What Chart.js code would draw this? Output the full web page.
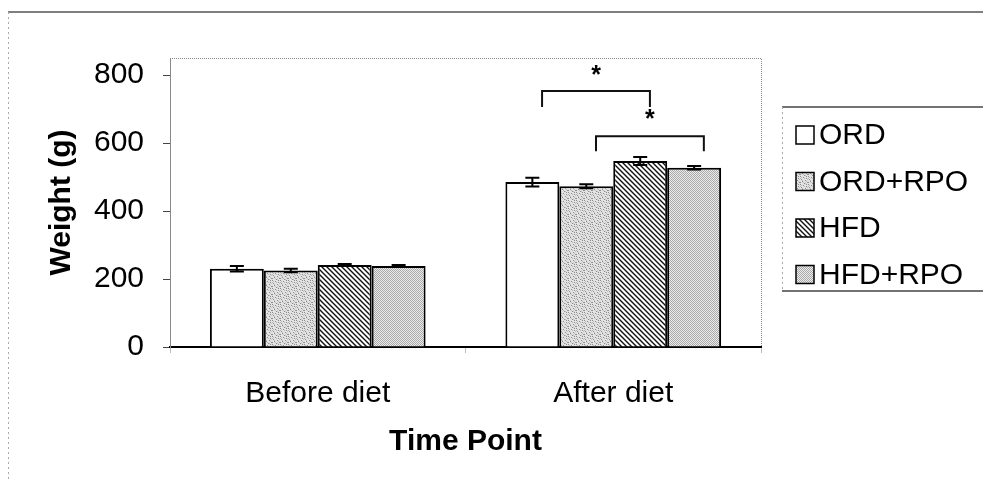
<!DOCTYPE html>
<html>
<head>
<meta charset="utf-8">
<script src="https://cdn.jsdelivr.net/npm/chart.js@4/dist/chart.umd.min.js"></script>
<style>
  html, body { margin: 0; padding: 0; background: #fff; }
  #wrap { width: 983px; height: 491px; }
</style>
</head>
<body>
<div id="wrap"><canvas id="c" width="983" height="491"></canvas></div>
<script>
// ---- data ----
const categories = ['Before diet', 'After diet'];
const seriesNames = ['ORD', 'ORD+RPO', 'HFD', 'HFD+RPO'];
const ordValues = [230, 485];
const ordRpoValues = [225, 473];
const hfdValues = [241, 547];
const hfdRpoValues = [238, 527];
const ordErr = [8, 13];
const ordRpoErr = [5, 6];
const hfdErr = [3, 12];
const hfdRpoErr = [3, 5];
const yTicks = [0, 200, 400, 600, 800];
const yMax = 850;
// significance brackets (category index, dataset from/to, y in data units)
const brackets = [
  { cat: 1, from: 0, to: 2, top: 753, bottom: 706, star: 821 },
  { cat: 1, from: 1, to: 3, top: 620, bottom: 576, star: 691 }
];

const FONT = "'Liberation Sans', Arial, sans-serif";

// ---- patterns ----
function tile(w, h, draw) {
  const c = document.createElement('canvas');
  c.width = w; c.height = h;
  const g = c.getContext('2d');
  draw(g);
  return document.getElementById('c').getContext('2d').createPattern(c, 'repeat');
}
const speckle = tile(8, 8, g => {
  g.fillStyle = '#e2e2e2'; g.fillRect(0, 0, 8, 8);
  g.fillStyle = '#8e8e8e';
  const pts = [[0,0],[3,1],[6,2],[1,3],[5,4],[2,5],[7,6],[4,7],[6,0],[0,6]];
  pts.forEach(p => g.fillRect(p[0], p[1], 1, 1));
  g.fillStyle = '#bdbdbd';
  const pts2 = [[1,1],[4,2],[7,3],[2,4],[6,5],[3,6],[5,7],[0,2]];
  pts2.forEach(p => g.fillRect(p[0], p[1], 1, 1));
});
const hatch = tile(5, 5, g => {
  g.fillStyle = '#ffffff'; g.fillRect(0, 0, 5, 5);
  g.strokeStyle = '#111'; g.lineWidth = 1.4;
  g.beginPath();
  g.moveTo(-1, -1); g.lineTo(6, 6);
  g.moveTo(-4, 1); g.lineTo(4, 9);
  g.moveTo(1, -4); g.lineTo(9, 4);
  g.stroke();
});
const dots = tile(2, 2, g => {
  g.fillStyle = '#ececec'; g.fillRect(0, 0, 2, 2);
  g.fillStyle = '#a8a8a8'; g.fillRect(0, 0, 1, 1); g.fillRect(1, 1, 1, 1);
});
const fills = ['#ffffff', speckle, hatch, dots];
const allValues = [ordValues, ordRpoValues, hfdValues, hfdRpoValues];
const allErrs = [ordErr, ordRpoErr, hfdErr, hfdRpoErr];

const decorPlugin = {
  id: 'decor',
  beforeDraw(chart) {
    const ctx = chart.ctx;
    ctx.save();
    ctx.fillStyle = '#fff';
    ctx.fillRect(0, 0, chart.width, chart.height);
    // outer frame
    ctx.strokeStyle = '#555'; ctx.lineWidth = 1.5;
    ctx.beginPath(); ctx.moveTo(8, 12); ctx.lineTo(983, 12); ctx.stroke();
    ctx.strokeStyle = '#aaa'; ctx.lineWidth = 1; ctx.setLineDash([2, 3]);
    ctx.beginPath(); ctx.moveTo(8.5, 12); ctx.lineTo(8.5, 482); ctx.stroke();
    // plot area top/right dotted
    const a = chart.chartArea;
    ctx.strokeStyle = '#888'; ctx.setLineDash([1, 1]);
    ctx.beginPath();
    ctx.moveTo(a.left, a.top + 0.5); ctx.lineTo(a.right + 0.5, a.top + 0.5); ctx.lineTo(a.right + 0.5, a.bottom);
    ctx.stroke();
    // legend frame
    ctx.setLineDash([]);
    ctx.strokeStyle = '#444'; ctx.lineWidth = 1.5;
    ctx.beginPath(); ctx.moveTo(782, 107); ctx.lineTo(983, 107); ctx.stroke();
    ctx.beginPath(); ctx.moveTo(782, 291); ctx.lineTo(983, 291); ctx.stroke();
    ctx.strokeStyle = '#aaa'; ctx.lineWidth = 1; ctx.setLineDash([2, 3]);
    ctx.beginPath(); ctx.moveTo(782.5, 107); ctx.lineTo(782.5, 291); ctx.stroke();
    ctx.restore();
  },
  afterDatasetsDraw(chart) {
    const ctx = chart.ctx;
    const y = chart.scales.y;
    ctx.save();
    ctx.strokeStyle = '#000'; ctx.lineWidth = 2;
    // error bars
    chart.data.datasets.forEach((ds, di) => {
      const meta = chart.getDatasetMeta(di);
      meta.data.forEach((bar, i) => {
        const v = ds.data[i], e = allErrs[di][i];
        const x = bar.x, yt = y.getPixelForValue(v + e), yb = y.getPixelForValue(v - e);
        ctx.beginPath();
        ctx.moveTo(x, yt); ctx.lineTo(x, yb);
        ctx.moveTo(x - 7, yt); ctx.lineTo(x + 7, yt);
        ctx.moveTo(x - 7, yb); ctx.lineTo(x + 7, yb);
        ctx.stroke();
      });
    });
    // brackets
    ctx.lineWidth = 2; ctx.strokeStyle = '#111';
    brackets.forEach(b => {
      const b1 = chart.getDatasetMeta(b.from).data[b.cat];
      const b2 = chart.getDatasetMeta(b.to).data[b.cat];
      const x1 = b1.x + b1.width * 0.18, x2 = b2.x + b2.width * 0.18;
      const yt = y.getPixelForValue(b.top), yb = y.getPixelForValue(b.bottom);
      ctx.beginPath();
      ctx.moveTo(x1, yb); ctx.lineTo(x1, yt); ctx.lineTo(x2, yt); ctx.lineTo(x2, yb);
      ctx.stroke();
      ctx.fillStyle = '#000';
      ctx.font = 'bold 25px ' + FONT;
      ctx.textAlign = 'center'; ctx.textBaseline = 'alphabetic';
      ctx.fillText('*', (x1 + x2) / 2, y.getPixelForValue(b.star) + 15);
    });
    ctx.restore();
  },
  afterDraw(chart) {
    const ctx = chart.ctx;
    ctx.save();
    const y0 = 135, step = 46.5;
    chart.data.datasets.forEach((ds, i) => {
      const cy = y0 + i * step;
      ctx.fillStyle = fills[i];
      ctx.fillRect(796, cy - 9, 18, 18);
      ctx.strokeStyle = '#000'; ctx.lineWidth = 1.5;
      ctx.strokeRect(796, cy - 9, 18, 18);
      ctx.fillStyle = '#000';
      ctx.font = '30px ' + FONT;
      ctx.textAlign = 'left'; ctx.textBaseline = 'middle';
      ctx.fillText(ds.label, 819, cy + 1);
    });
    ctx.restore();
  }
};

new Chart(document.getElementById('c'), {
  type: 'bar',
  data: {
    labels: categories,
    datasets: seriesNames.map((name, i) => ({
      label: name,
      data: allValues[i],
      backgroundColor: fills[i],
      borderColor: '#000',
      borderWidth: 2,
      categoryPercentage: 0.73,
      barPercentage: 1.0
    }))
  },
  options: {
    responsive: false,
    devicePixelRatio: 1,
    animation: false,
    layout: { padding: { top: 58, right: 222, left: 0, bottom: 0 } },
    plugins: { legend: { display: false }, tooltip: { enabled: false } },
    scales: {
      x: {
        afterFit(s) { s.height = 144; },
        grid: { drawOnChartArea: false, drawTicks: true, tickLength: 6, color: '#bbb', offset: true },
        border: { display: true, color: '#000', width: 2 },
        ticks: { color: '#000', font: { family: FONT, size: 30 }, padding: 23 },
        title: { display: true, text: 'Time Point', color: '#000',
                 font: { family: FONT, size: 30, weight: 'bold' }, padding: { top: 0, bottom: 31 } }
      },
      y: {
        min: 0, max: yMax,
        afterFit(s) { s.width = 170; },
        afterBuildTicks(s) { s.ticks = yTicks.map(v => ({ value: v })); },
        grid: { drawOnChartArea: false, drawTicks: true, tickLength: 7, color: '#444' },
        border: { display: true, color: '#888', width: 1, dash: [1, 1] },
        ticks: { color: '#000', font: { family: FONT, size: 30 }, padding: 19 },
        title: { display: true, text: 'Weight (g)', color: '#000',
                 font: { family: FONT, size: 30, weight: 'bold' }, padding: { top: 44, bottom: 0 } }
      }
    }
  },
  plugins: [decorPlugin]
});
</script>
</body>
</html>
